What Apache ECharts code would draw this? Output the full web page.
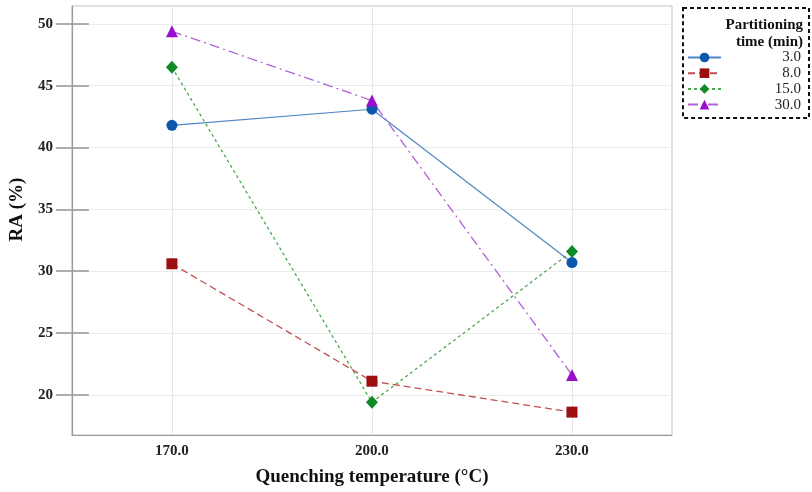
<!DOCTYPE html>
<html>
<head>
<meta charset="utf-8">
<script src="https://cdn.jsdelivr.net/npm/echarts@6/dist/echarts.min.js"></script>
<style>html,body{margin:0;padding:0;background:#fff}#c{width:812px;height:492px}</style>
</head>
<body>
<div id="c"></div>
<script>
var temperatures = [170, 200, 230];
var xTickLabels = ['170.0', '200.0', '230.0'];
var yTicks = [20, 25, 30, 35, 40, 45, 50];
var seriesNames = ['3.0', '8.0', '15.0', '30.0'];
var ra_3 = [41.8, 43.1, 30.7];
var ra_8 = [30.6, 21.1, 18.6];
var ra_15 = [46.5, 19.4, 31.6];
var ra_30 = [49.4, 43.8, 21.6];

var FONT = '"Liberation Serif", "DejaVu Serif", serif';
function pairs(vals){ return temperatures.map(function(t,i){ return [t, vals[i]]; }); }

var styles = [
  {symbol:'circle', size:11, mc:'#0a58ad', lc:'#4f86c6', type:'solid', w:1.2},
  {symbol:'rect', size:11, mc:'#9c0f0f', lc:'#c05050', type:[7,4], w:1.3},
  {symbol:'diamond', size:[12,13], mc:'#0f8a25', lc:'#4aa84a', type:[3,3], w:1.3},
  {symbol:'triangle', size:12, mc:'#9a0fcc', lc:'#b060d8', type:[10,4,2,4], w:1.3}
];
var allVals = [ra_3, ra_8, ra_15, ra_30];

var series = allVals.map(function(v, i){
  var s = styles[i];
  return {
    name: seriesNames[i], type: 'line', data: pairs(v),
    symbol: s.symbol, symbolSize: s.size, showSymbol: true,
    itemStyle: {color: s.mc},
    lineStyle: {color: s.lc, width: s.w, type: s.type},
    z: 3
  };
});

var chart = echarts.init(document.getElementById('c'), null, {renderer:'canvas'});
chart.setOption({
  animation: false,
  backgroundColor: '#fff',
  grid: {left: 71, right: 140, top: 6, bottom: 56, show: true, borderColor: '#c0c0c0', borderWidth: 1},
  xAxis: {
    type: 'value', min: 155, max: 245,
    name: 'Quenching temperature (\u00B0C)', nameLocation: 'middle', nameGap: 33,
    nameTextStyle: {fontFamily: FONT, fontWeight: 'bold', fontSize: 19, color: '#111'},
    axisLine: {show: true, lineStyle: {color: '#9a9a9a', width: 1}},
    axisTick: {show: false, customValues: temperatures},
    axisLabel: {customValues: temperatures, margin: 9, fontFamily: FONT, fontWeight: 'bold', fontSize: 15, color: '#222',
      formatter: function(v){ var i = temperatures.indexOf(v); return i >= 0 ? xTickLabels[i] : ''; }},
    splitLine: {show: true, lineStyle: {color: '#e6e6e6', width: 1}}
  },
  yAxis: [{
    type: 'value', min: 16.75, max: 51.45,
    name: 'RA (%)', nameLocation: 'middle', nameGap: 40,
    nameTextStyle: {fontFamily: FONT, fontWeight: 'bold', fontSize: 19, color: '#111', padding: [0, 0, 0, 22]},
    axisLine: {show: true, lineStyle: {color: '#9a9a9a', width: 1.2}},
    axisTick: {show: true, customValues: yTicks, length: 16, lineStyle: {color: '#9a9a9a', width: 1.6}},
    axisLabel: {customValues: yTicks, margin: 19, fontFamily: FONT, fontWeight: 'bold', fontSize: 15, color: '#222'},
    splitLine: {show: true, lineStyle: {color: '#ebebeb', width: 1}}
  }, {
    type: 'value', min: 16.75, max: 51.45, position: 'left',
    axisLine: {show: false},
    axisTick: {show: true, inside: true, customValues: yTicks, length: 17, lineStyle: {color: '#9a9a9a', width: 1.6}},
    axisLabel: {show: false},
    splitLine: {show: false}
  }],
  legend: {
    orient: 'vertical', left: 683, top: 8,
    padding: [42, 8, 6, 4],
    borderColor: '#111', borderWidth: 2, borderType: [4, 3],
    itemWidth: 33, itemHeight: 12, itemGap: 0.7,
    data: seriesNames,
    formatter: function(n){ return '{a|' + n + '}'; },
    textStyle: {fontFamily: FONT, fontSize: 15, color: '#222',
      rich: {a: {width: 75, lineHeight: 16, align: 'right', fontFamily: FONT, fontSize: 15, color: '#222'}}}
  },
  graphic: [{
    type: 'text', right: 9, top: 18,
    style: {text: 'Partitioning', fontFamily: FONT, fontWeight: 'bold', fontSize: 15, fill: '#111'}
  }, {
    type: 'text', right: 9, top: 35,
    style: {text: 'time (min)', fontFamily: FONT, fontWeight: 'bold', fontSize: 15, fill: '#111'}
  }],
  series: series
});
</script>
</body>
</html>
